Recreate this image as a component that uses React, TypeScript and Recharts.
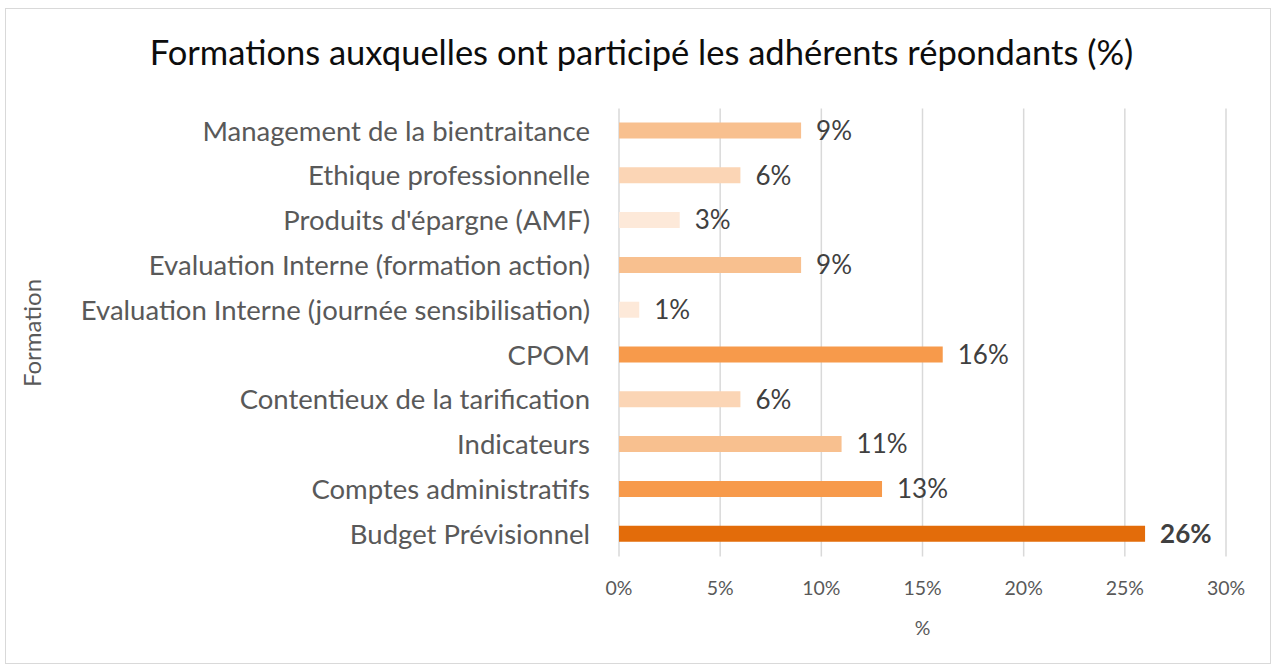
import { BarChart, Bar, XAxis, YAxis, CartesianGrid, Cell, LabelList } from 'recharts';

const formations = [
  'Management de la bientraitance',
  'Ethique professionnelle',
  "Produits d'épargne (AMF)",
  'Evaluation Interne (formation action)',
  'Evaluation Interne (journée sensibilisation)',
  'CPOM',
  'Contentieux de la tarification',
  'Indicateurs',
  'Comptes administratifs',
  'Budget Prévisionnel',
];
const percentages = [9, 6, 3, 9, 1, 16, 6, 11, 13, 26];
const xTicks = [0, 5, 10, 15, 20, 25, 30];

const barColors = ['#F8C08F', '#FBD5B5', '#FDE9D9', '#F8C08F', '#FDE9D9', '#F79A4B', '#FBD5B5', '#F8C08F', '#F79A4B', '#E36C0A'];

const data = formations.map((name, i) => ({ name, value: percentages[i] }));

const FONT = 'Lato, "Open Sans", sans-serif';

const renderValue = (props: any) => {
  const { x, y, width, height, value, index } = props;
  const bold = index === data.length - 1;
  return (
    <text
      x={x + width + 15}
      y={y + height / 2}
      dy="0.36em"
      fontSize={26}
      fontFamily={FONT}
      fontWeight={bold ? 700 : 400}
      fill="#404040"
    >
      {value}%
    </text>
  );
};

const App = () => {
  return (
    <div style={{ position: 'absolute', left: 0, top: 0, width: 1276, height: 668, background: '#fff' }}>
      <div
        style={{
          position: 'absolute',
          left: 5,
          top: 8,
          width: 1266,
          height: 656,
          border: '1.5px solid #d9d9d9',
          boxSizing: 'border-box',
        }}
      />
      <div
        style={{
          position: 'absolute',
          left: 0,
          top: 30,
          width: 1283,
          textAlign: 'center',
          fontFamily: FONT,
          fontSize: 34.5,
          color: '#0d0d0d',
          lineHeight: '44px',
        }}
      >
        Formations auxquelles ont participé les adhérents répondants (%)
      </div>
      <div style={{ position: 'absolute', left: 0, top: 0 }}>
        <BarChart
          width={1276}
          height={668}
          data={data}
          layout="vertical"
          margin={{ top: 108.5, right: 50, bottom: 111.5 - 80, left: 59 }}
        >
          <CartesianGrid horizontal={false} stroke="#d9d9d9" strokeWidth={1.5} />
          <XAxis
            type="number"
            domain={[0, 30]}
            ticks={xTicks}
            tickFormatter={(v: number) => `${v}%`}
            axisLine={false}
            tickLine={false}
            tickSize={6}
            tickMargin={19}
            height={80}
            tick={{ fill: '#595959', fontSize: 19.5, fontFamily: FONT }}
            label={{
              value: '%',
              position: 'insideBottom',
              offset: 2,
              fill: '#595959',
              fontSize: 19.5,
              fontFamily: FONT,
            }}
          />
          <YAxis
            type="category"
            dataKey="name"
            width={560}
            axisLine={false}
            tickLine={false}
            tickSize={6}
            tickMargin={23}
            interval={0}
            tick={{ fill: '#595959', fontSize: 27.5, fontFamily: FONT }}
            label={{
              content: () => (
                <text
                  x={41}
                  y={333}
                  transform="rotate(-90, 41, 333)"
                  textAnchor="middle"
                  fill="#595959"
                  fontSize={24}
                  fontFamily={FONT}
                >
                  Formation
                </text>
              ),
            }}
          />
          <Bar dataKey="value" barSize={16} isAnimationActive={false}>
            {data.map((d, i) => (
              <Cell key={d.name} fill={barColors[i]} />
            ))}
            <LabelList dataKey="value" content={renderValue} />
          </Bar>
        </BarChart>
      </div>
    </div>
  );
};

export default App;
